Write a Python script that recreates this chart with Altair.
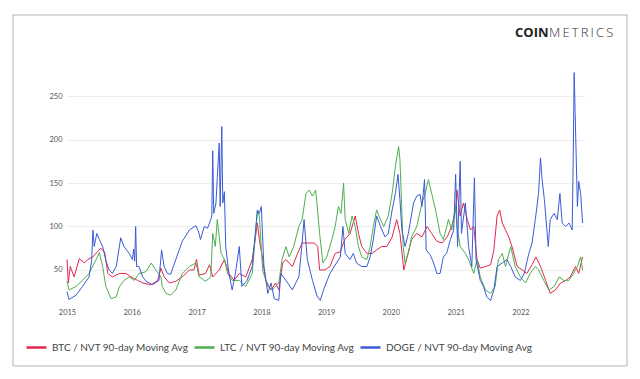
import altair as alt
import pandas as pd

series_names = ["BTC / NVT 90-day Moving Avg", "LTC / NVT 90-day Moving Avg", "DOGE / NVT 90-day Moving Avg"]
series_colors = ["#e3264c", "#4caf50", "#3b5bd5"]

doge_t = [2015.0, 2015.03, 2015.14, 2015.24, 2015.34, 2015.38, 2015.40, 2015.42, 2015.46, 2015.50, 2015.55, 2015.60,
          2015.65, 2015.70, 2015.76, 2015.83, 2015.88, 2015.96, 2016.01, 2016.03, 2016.045, 2016.06, 2016.075, 2016.11,
          2016.17, 2016.22, 2016.32, 2016.42, 2016.46, 2016.50, 2016.55, 2016.60, 2016.68, 2016.78, 2016.89, 2016.99,
          2017.04, 2017.06, 2017.12, 2017.17, 2017.22, 2017.235, 2017.25, 2017.265, 2017.30, 2017.32, 2017.35, 2017.365,
          2017.39, 2017.405, 2017.43, 2017.45, 2017.50, 2017.55, 2017.60, 2017.66, 2017.70, 2017.78, 2017.86, 2017.94,
          2017.97, 2018.0, 2018.04, 2018.10, 2018.15, 2018.20, 2018.27, 2018.30, 2018.38, 2018.48, 2018.53, 2018.58,
          2018.63, 2018.66, 2018.71, 2018.79, 2018.86, 2018.91, 2018.96, 2019.06, 2019.16, 2019.22, 2019.26, 2019.295,
          2019.37, 2019.42, 2019.47, 2019.55, 2019.63, 2019.68, 2019.73, 2019.78, 2019.84, 2019.91, 2019.96, 2020.02,
          2020.07, 2020.11, 2020.14, 2020.17, 2020.22, 2020.27, 2020.35, 2020.40, 2020.45, 2020.48, 2020.52, 2020.545,
          2020.61, 2020.66, 2020.71, 2020.76, 2020.81, 2020.86, 2020.92, 2020.97, 2021.0, 2021.03, 2021.07, 2021.09,
          2021.15, 2021.20, 2021.25, 2021.29, 2021.315, 2021.38, 2021.43, 2021.48, 2021.54, 2021.59, 2021.64, 2021.72,
          2021.79, 2021.85, 2021.92, 2022.0, 2022.06, 2022.13, 2022.18, 2022.23, 2022.28, 2022.31, 2022.335, 2022.37,
          2022.40, 2022.43, 2022.46, 2022.52, 2022.57, 2022.61, 2022.645, 2022.70, 2022.75, 2022.80, 2022.815, 2022.83,
          2022.845, 2022.88, 2022.90, 2022.93, 2022.96]
doge_v = [25, 16, 21, 31, 42, 60, 96, 77, 92, 85, 77, 61,
          50, 46, 54, 87, 77, 69, 62, 74, 60, 100, 54, 54,
          42, 37, 33, 38, 73, 54, 46, 45, 62, 83, 96, 101,
          92, 85, 100, 98, 108, 112, 187, 115, 127, 156, 196, 123,
          215, 127, 140, 77, 46, 27, 46, 77, 31, 38, 54, 119,
          115, 123, 54, 23, 35, 17, 15, 46, 38, 27, 35, 42,
          81, 108, 62, 38, 20, 15, 27, 46, 58, 65, 100, 69,
          62, 69, 58, 54, 54, 65, 85, 112, 100, 88, 92, 119,
          138, 160, 131, 96, 77, 92, 127, 135, 137, 123, 154, 73,
          67, 58, 46, 46, 65, 69, 85, 96, 160, 77, 175, 92,
          127, 77, 54, 156, 62, 38, 31, 19, 15, 27, 54, 58,
          62, 54, 42, 38, 46, 69, 81, 108, 138, 179, 154, 131,
          104, 77, 108, 115, 108, 138, 104, 100, 104, 96, 177, 277,
          231, 123, 152, 138, 104]

ltc_t = [2015.0, 2015.03, 2015.14, 2015.24, 2015.34, 2015.45, 2015.50, 2015.55, 2015.60, 2015.68, 2015.76, 2015.81,
         2015.88, 2015.96, 2016.04, 2016.11, 2016.22, 2016.30, 2016.37, 2016.45, 2016.47, 2016.53, 2016.60, 2016.68,
         2016.78, 2016.89, 2016.99, 2017.04, 2017.14, 2017.22, 2017.25, 2017.29, 2017.32, 2017.38, 2017.43, 2017.48,
         2017.55, 2017.66, 2017.76, 2017.86, 2017.94, 2017.97, 2018.02, 2018.10, 2018.17, 2018.27, 2018.32, 2018.38,
         2018.43, 2018.50, 2018.58, 2018.63, 2018.69, 2018.74, 2018.79, 2018.84, 2018.90, 2018.95, 2019.01, 2019.09,
         2019.14, 2019.19, 2019.23, 2019.27, 2019.295, 2019.35, 2019.40, 2019.45, 2019.50, 2019.55, 2019.63, 2019.68,
         2019.73, 2019.78, 2019.84, 2019.89, 2019.96, 2020.02, 2020.07, 2020.12, 2020.14, 2020.19, 2020.22, 2020.27,
         2020.32, 2020.40, 2020.48, 2020.53, 2020.58, 2020.63, 2020.69, 2020.76, 2020.81, 2020.89, 2020.94, 2021.0,
         2021.02, 2021.07, 2021.15, 2021.20, 2021.28, 2021.33, 2021.38, 2021.46, 2021.54, 2021.61, 2021.66, 2021.72,
         2021.77, 2021.85, 2021.92, 2022.0, 2022.08, 2022.15, 2022.23, 2022.28, 2022.36, 2022.44, 2022.52, 2022.60,
         2022.67, 2022.75, 2022.82, 2022.88, 2022.93, 2022.96]
ltc_v = [37, 27, 31, 38, 46, 62, 70, 54, 31, 17, 19, 31,
         38, 42, 38, 46, 48, 58, 50, 42, 31, 23, 21, 27,
         46, 54, 58, 42, 37, 42, 92, 77, 108, 69, 62, 46,
         38, 38, 31, 46, 119, 112, 50, 31, 27, 35, 62, 77,
         65, 77, 100, 108, 138, 142, 135, 142, 92, 58, 65, 85,
         100, 123, 115, 150, 108, 92, 112, 100, 77, 65, 62, 77,
         100, 119, 108, 100, 112, 138, 169, 192, 177, 77, 58, 69,
         88, 100, 127, 138, 154, 138, 119, 92, 85, 108, 96, 123,
         100, 77, 69, 62, 46, 62, 42, 27, 23, 31, 62, 69,
         54, 77, 54, 42, 35, 46, 54, 50, 38, 27, 31, 42,
         38, 38, 46, 54, 65, 50]

btc_t = [2015.0, 2015.02, 2015.05, 2015.11, 2015.19, 2015.27, 2015.32, 2015.40, 2015.47, 2015.52, 2015.58, 2015.63,
         2015.70, 2015.81, 2015.91, 2015.99, 2016.09, 2016.17, 2016.30, 2016.40, 2016.45, 2016.50, 2016.58, 2016.68,
         2016.78, 2016.89, 2016.96, 2017.0, 2017.04, 2017.14, 2017.20, 2017.25, 2017.35, 2017.43, 2017.50, 2017.58,
         2017.66, 2017.76, 2017.86, 2017.94, 2017.97, 2018.02, 2018.07, 2018.15, 2018.22, 2018.27, 2018.33, 2018.38,
         2018.48, 2018.56, 2018.63, 2018.71, 2018.82, 2018.87, 2018.90, 2018.98, 2019.06, 2019.14, 2019.22, 2019.29,
         2019.37, 2019.45, 2019.50, 2019.55, 2019.63, 2019.71, 2019.78, 2019.86, 2019.94, 2020.02, 2020.09, 2020.14,
         2020.20, 2020.25, 2020.32, 2020.40, 2020.48, 2020.56, 2020.63, 2020.71, 2020.79, 2020.87, 2020.94, 2021.0,
         2021.02, 2021.07, 2021.12, 2021.18, 2021.23, 2021.28, 2021.33, 2021.38, 2021.46, 2021.54, 2021.59, 2021.64,
         2021.68, 2021.72, 2021.77, 2021.82, 2021.87, 2021.95, 2022.03, 2022.10, 2022.18, 2022.24, 2022.31, 2022.39,
         2022.46, 2022.54, 2022.62, 2022.70, 2022.77, 2022.85, 2022.90, 2022.96]
btc_v = [62, 35, 54, 42, 63, 58, 62, 65, 71, 75, 71, 46,
         42, 46, 46, 42, 38, 35, 33, 38, 52, 42, 35, 37,
         42, 50, 50, 62, 44, 46, 56, 42, 50, 62, 46, 38,
         46, 42, 62, 104, 85, 62, 38, 27, 35, 27, 58, 62,
         54, 69, 81, 81, 81, 77, 50, 50, 54, 69, 71, 85,
         92, 112, 92, 77, 69, 69, 73, 77, 77, 88, 108, 92,
         50, 65, 85, 92, 88, 100, 92, 83, 81, 88, 100, 119,
         142, 112, 127, 108, 96, 100, 62, 52, 54, 56, 73, 112,
         119, 104, 96, 88, 77, 54, 50, 46, 56, 65, 54, 38,
         23, 27, 35, 38, 42, 54, 46, 65]

logo_bold = "COIN"
logo_light = "M\u2009E\u2009T\u2009R\u2009I\u2009C\u2009S"


def to_date(t):
    return pd.Timestamp("2015-01-01") + pd.to_timedelta((t - 2015.0) * 365.25, unit="D")


rows = []
for name, ts, vs in zip(series_names, [btc_t, ltc_t, doge_t], [btc_v, ltc_v, doge_v]):
    for t, v in zip(ts, vs):
        rows.append({"date": to_date(t), "value": v, "series": name})
df = pd.DataFrame(rows)

year_ticks = [alt.DateTime(year=y, month=1, date=1) for y in range(2015, 2023)]

lines = alt.Chart(df).mark_line(strokeWidth=1, interpolate="linear").encode(
    x=alt.X("date:T",
            scale=alt.Scale(domain=[alt.DateTime(year=2015, month=1, date=1),
                                    alt.DateTime(year=2022, month=12, date=31)]),
            axis=alt.Axis(values=year_ticks, format="%Y", title=None, grid=False, domain=False, ticks=False,
                          labelFontSize=7.5, labelColor="#555555", labelPadding=5, labelFont="Lato",
                          labelFlush=False, labelOverlap=False)),
    y=alt.Y("value:Q", scale=alt.Scale(domain=[12, 280], nice=False, zero=False),
            axis=alt.Axis(values=[50, 100, 150, 200, 250], title=None, grid=True, gridColor="#eeeeee",
                          domain=False, ticks=False, labelFontSize=7.5, labelColor="#555555",
                          labelPadding=5, labelFont="Lato")),
    color=alt.Color("series:N", sort=series_names,
                    scale=alt.Scale(domain=series_names, range=series_colors),
                    legend=alt.Legend(title=None, orient="none", legendX=-42, legendY=266,
                                      direction="horizontal", symbolType="stroke", symbolSize=400,
                                      symbolStrokeWidth=2.5, labelFontSize=10, labelFont="Lato",
                                      labelColor="#444444", columnPadding=0, labelOffset=4,
                                      labelLimit=300, gridAlign="none")),
    order=alt.Order("date:T"),
)

logo_df = pd.DataFrame({"t": ["x"]})
coin = alt.Chart(logo_df).mark_text(text=logo_bold, font="Open Sans", fontWeight="bold", fontSize=13,
                                    align="left", baseline="alphabetic", color="#222222").encode(
    x=alt.value(448), y=alt.value(-33))
metrics = alt.Chart(logo_df).mark_text(text=logo_light, font="Open Sans", fontWeight=300, fontSize=13,
                                       align="left", baseline="alphabetic", color="#333333").encode(
    x=alt.value(482), y=alt.value(-33))

border = alt.Chart(logo_df).mark_rect(fill="transparent", stroke="#b3b3b3", strokeWidth=1).encode(
    x=alt.value(-54), x2=alt.value(560), y=alt.value(-55), y2=alt.value(296))

chart = alt.layer(border, lines, coin, metrics).properties(
    width=518, height=233,
    background="white",
    autosize=alt.AutoSizeParams(type="none"),
    padding={"left": 59, "top": 62, "right": 47, "bottom": 68},
).configure_view(strokeWidth=0, stroke="transparent")

chart.save("out.html", embed_options={"renderer": "svg", "actions": False})
